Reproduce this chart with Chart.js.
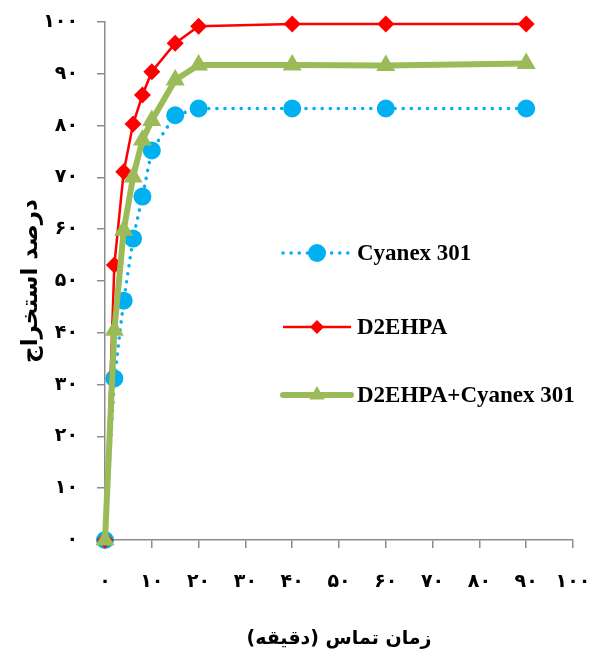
<!DOCTYPE html>
<html>
<head>
<meta charset="utf-8">
<script src="https://cdn.jsdelivr.net/npm/chart.js@4/dist/chart.umd.min.js"></script>
<style>
  body { margin: 0; background: #fff; }
  canvas { display: block; }
</style>
</head>
<body>
<canvas id="extractionChart" width="595" height="650"></canvas>
<script>
// contact time (minutes)
var times = [0, 2, 4, 6, 8, 10, 15, 20, 40, 60, 90];

// extraction percent for each extractant
var cyanexValues = [0, 31.2, 46.2, 58.2, 66.3, 75.2, 82.0, 83.3, 83.3, 83.3, 83.3];
var d2ehpaValues = [0, 53.1, 71.1, 80.3, 85.9, 90.4, 95.9, 99.2, 99.6, 99.6, 99.6];
var mixValues = [0, 40.5, 59.8, 70.1, 77.2, 81.0, 88.8, 91.7, 91.7, 91.6, 92.0];

var seriesNames = ['Cyanex 301', 'D2EHPA', 'D2EHPA+Cyanex 301'];

// tick labels in Persian digits
var xTickLabels = ['۰', '۱۰', '۲۰', '۳۰', '۴۰', '۵۰', '۶۰', '۷۰', '۸۰', '۹۰', '۱۰۰'];
var yTickLabels = ['۰', '۱۰', '۲۰', '۳۰', '۴۰', '۵۰', '۶۰', '۷۰', '۸۰', '۹۰', '۱۰۰'];

var xTitle = 'زمان تماس (دقیقه)';
var yTitle = 'درصد استخراج';

var axisColor = '#8c8c8c';
var tickFont = { family: '"DejaVu Sans"', size: 19, weight: 'bold' };

function toPoints(values) {
    var pts = [];
    for (var i = 0; i < times.length; i++) {
        pts.push({ x: times[i], y: values[i] });
    }
    return pts;
}

// Legend drawn inside the plot area, like the original figure
var insideLegend = {
    id: 'insideLegend',
    afterDatasetsDraw: function(chart) {
        var ctx = chart.ctx;
        var rows = [253, 327, 395];
        var markerRadius = [9, 7, 9];
        chart.data.datasets.forEach(function(ds, i) {
            var y = rows[i];
            ctx.save();
            ctx.strokeStyle = ds.borderColor;
            ctx.lineWidth = ds.borderWidth;
            ctx.lineCap = ds.borderCapStyle || 'butt';
            ctx.setLineDash(ds.borderDash || []);
            ctx.beginPath();
            ctx.moveTo(283, y);
            ctx.lineTo(351, y);
            ctx.stroke();
            ctx.setLineDash([]);
            ctx.fillStyle = ds.pointBackgroundColor;
            ctx.strokeStyle = ds.pointBackgroundColor;
            Chart.helpers.drawPoint(ctx, {
                pointStyle: ds.pointStyle,
                radius: markerRadius[i],
                rotation: 0,
                borderWidth: 0
            }, 317, y);
            ctx.fillStyle = '#000';
            ctx.font = 'bold 23px "Liberation Serif"';
            ctx.textAlign = 'left';
            ctx.textBaseline = 'middle';
            ctx.fillText(ds.label, 357, y + 1);
            ctx.restore();
        });
    }
};

var ctx = document.getElementById('extractionChart').getContext('2d');
var chart = new Chart(ctx, {
    type: 'line',
    data: {
        datasets: [
            {
                label: seriesNames[0],
                data: toPoints(cyanexValues),
                borderColor: '#00b0f0',
                borderWidth: 3.5,
                borderDash: [0.1, 8],
                borderCapStyle: 'round',
                pointStyle: 'circle',
                pointRadius: 9,
                pointBackgroundColor: '#00b0f0',
                pointBorderWidth: 0,
                clip: false,
                order: 3
            },
            {
                label: seriesNames[1],
                data: toPoints(d2ehpaValues),
                borderColor: '#ff0000',
                borderWidth: 2.5,
                pointStyle: 'rectRot',
                pointRadius: 8.5,
                pointBackgroundColor: '#ff0000',
                pointBorderWidth: 0,
                clip: false,
                order: 2
            },
            {
                label: seriesNames[2],
                data: toPoints(mixValues),
                borderColor: '#9bbb59',
                borderWidth: 6,
                borderCapStyle: 'round',
                pointStyle: 'triangle',
                pointRadius: 11,
                pointBackgroundColor: '#9bbb59',
                pointBorderWidth: 0,
                clip: false,
                order: 1
            }
        ]
    },
    options: {
        responsive: false,
        animation: false,
        layout: { padding: { top: 22, right: 22, left: 0, bottom: 0 } },
        plugins: {
            legend: { display: false },
            tooltip: { enabled: false }
        },
        scales: {
            x: {
                type: 'linear',
                min: 0,
                max: 100,
                afterFit: function(scale) {
                    scale.height = 110;
                    scale.paddingLeft = 0;
                    scale.paddingRight = 0;
                },
                afterBuildTicks: function(scale) {
                    scale.ticks = xTickLabels.map(function(t, i) { return { value: i * 10 }; });
                },
                border: { color: axisColor, width: 1.5 },
                grid: { drawOnChartArea: false, color: axisColor, lineWidth: 1.5, tickLength: 8 },
                ticks: {
                    color: '#000',
                    font: tickFont,
                    padding: 23,
                    maxRotation: 0,
                    autoSkip: false,
                    callback: function(v, i) { return xTickLabels[i]; }
                },
                title: {
                    display: true,
                    text: xTitle,
                    color: '#000',
                    font: { family: '"DejaVu Sans"', size: 19, weight: 'bold' },
                    padding: { top: 6, bottom: 0 }
                }
            },
            y: {
                min: 0,
                max: 100,
                afterFit: function(scale) {
                    scale.width = 105;
                    scale.paddingTop = 0;
                    scale.paddingBottom = 0;
                },
                afterBuildTicks: function(scale) {
                    scale.ticks = yTickLabels.map(function(t, i) { return { value: i * 10 }; });
                },
                border: { color: axisColor, width: 1.5 },
                grid: { drawOnChartArea: false, color: axisColor, lineWidth: 1.5, tickLength: 8 },
                ticks: {
                    color: '#000',
                    font: tickFont,
                    padding: 19,
                    autoSkip: false,
                    callback: function(v, i) { return yTickLabels[i]; }
                },
                title: {
                    display: true,
                    text: yTitle,
                    color: '#000',
                    font: { family: '"DejaVu Sans"', size: 23, weight: 'bold' },
                    padding: { top: 17, bottom: 0 }
                }
            }
        }
    },
    plugins: [insideLegend]
});
</script>
</body>
</html>
